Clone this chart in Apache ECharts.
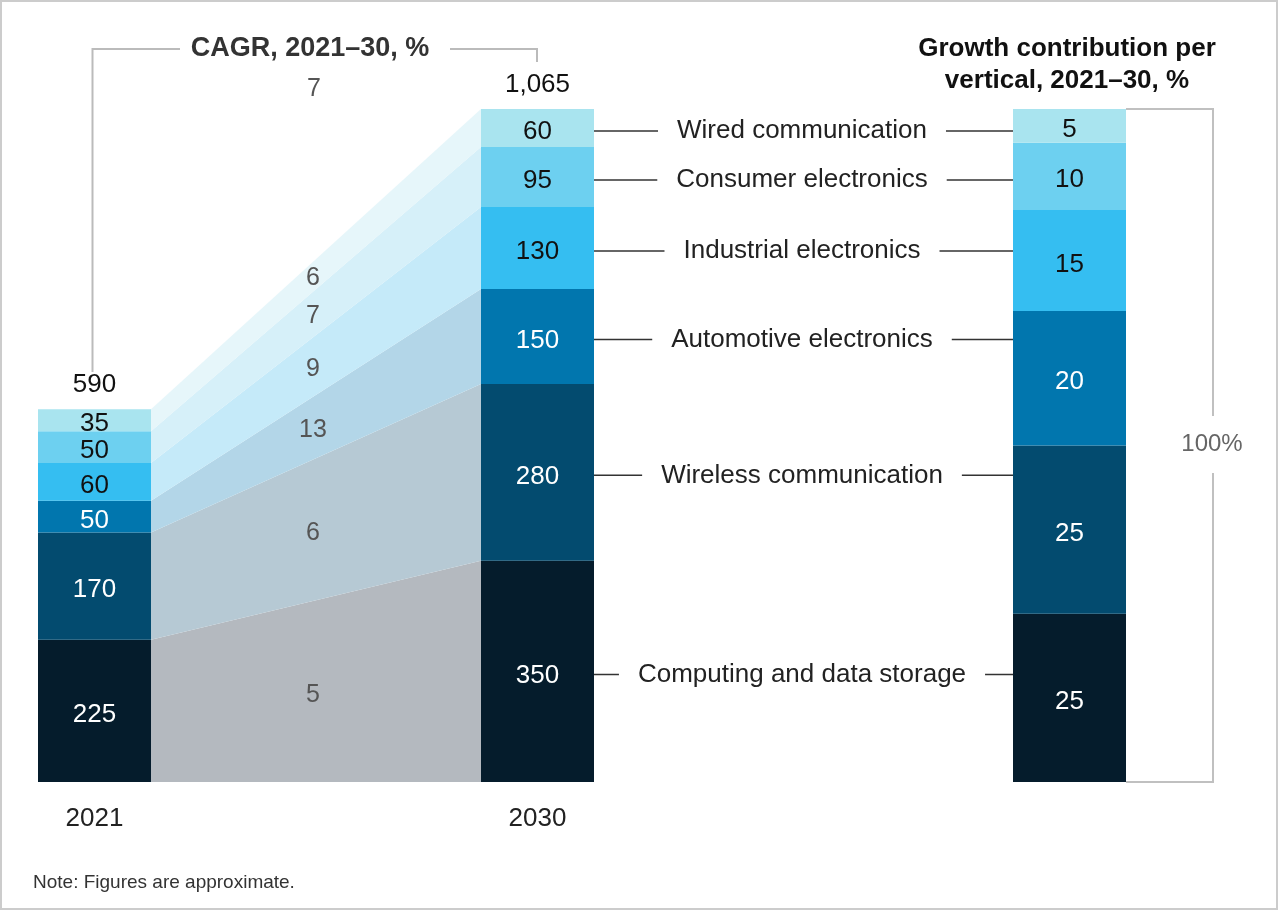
<!DOCTYPE html>
<html>
<head>
<meta charset="utf-8">
<title>Semiconductor market by vertical, 2021-30</title>
<script src="https://cdn.jsdelivr.net/npm/echarts@6.0.0/dist/echarts.min.js"></script>
<style>
  html, body { margin: 0; padding: 0; background: #fff; }
  #main { width: 1279px; height: 911px; }
</style>
</head>
<body>
<div id="main"></div>
<script>
// data, bottom of the stack first
var years = ['2021', '2030'];
var verticals = ['Computing and data storage', 'Wireless communication', 'Automotive electronics',
                 'Industrial electronics', 'Consumer electronics', 'Wired communication'];
var value2021 = [225, 170, 50, 60, 50, 35];
var value2030 = [350, 280, 150, 130, 95, 60];
var cagr = [5, 6, 13, 9, 7, 6];
var cagrTotal = [7];
var contribution = [25, 25, 20, 15, 10, 5];

// styles
var barColors = ['#051c2c', '#034b6f', '#0176ae', '#35bef1', '#6dd0f0', '#a9e4ef'];
var bandColors = ['#b4b9bf', '#b6c9d4', '#b3d6e8', '#c5eaf9', '#d6f0f9', '#e6f6fa'];
var textColors = ['#fff', '#fff', '#fff', '#111', '#111', '#111'];
var FONT = '"Liberation Sans", Arial, sans-serif';
var BAR_W = 113;
var LABEL_X = 802;
var LEADER_END = 1013;

function sum(arr) {
    return arr.reduce(function (a, b) { return a + b; }, 0);
}
function cumulative(arr) {
    var acc = 0;
    return arr.map(function (v) {
        var lo = acc;
        acc += v;
        return [lo, acc];
    });
}

var stack21 = cumulative(value2021);
var stack30 = cumulative(value2030);

var myChart = echarts.init(document.getElementById('main'));

var series = [];

// stacked bars 2021 / 2030 and the contribution bar
verticals.forEach(function (name, i) {
    var label = {
        show: true, position: 'inside', offset: [0, 4],
        color: textColors[i], fontSize: 26, fontFamily: FONT
    };
    series.push({
        name: name,
        type: 'bar',
        stack: 'years',
        xAxisIndex: 0,
        yAxisIndex: 0,
        barWidth: BAR_W,
        clip: false,
        data: [value2021[i], value2030[i]],
        itemStyle: { color: barColors[i] },
        label: label
    });
    series.push({
        name: name,
        type: 'bar',
        stack: 'share',
        xAxisIndex: 1,
        yAxisIndex: 1,
        barWidth: BAR_W,
        data: [contribution[i]],
        itemStyle: { color: barColors[i] },
        label: label
    });
});

// bands between the two bars, with CAGR in the middle
series.push({
    type: 'custom',
    xAxisIndex: 0,
    yAxisIndex: 0,
    z: 1,
    encode: { x: 0, y: 2 },
    data: verticals.map(function (n, i) {
        return [0, stack21[i][0], stack21[i][1], stack30[i][0], stack30[i][1], cagr[i]];
    }),
    renderItem: function (params, api) {
        var half = BAR_W / 2;
        var a = api.coord([0, api.value(1)]);
        var b = api.coord([0, api.value(2)]);
        var c = api.coord([1, api.value(4)]);
        var d = api.coord([1, api.value(3)]);
        var x1 = a[0] + half;
        var x2 = c[0] - half;
        return {
            type: 'group',
            children: [{
                type: 'polygon',
                shape: { points: [[x1, a[1]], [x1, b[1]], [x2, c[1]], [x2, d[1]]] },
                style: { fill: bandColors[params.dataIndex] }
            }, {
                type: 'text',
                style: {
                    text: String(api.value(5)),
                    x: (x1 + x2) / 2 - 3,
                    y: (a[1] + b[1] + c[1] + d[1]) / 4 + 4,
                    align: 'center',
                    verticalAlign: 'middle',
                    fill: '#555',
                    fontSize: 25,
                    fontFamily: FONT
                }
            }]
        };
    }
});

// leader lines and vertical names
series.push({
    type: 'custom',
    xAxisIndex: 0,
    yAxisIndex: 0,
    z: 3,
    encode: { x: 0, y: 1 },
    data: verticals.map(function (n, i) {
        return [1, (stack30[i][0] + stack30[i][1]) / 2];
    }),
    renderItem: function (params, api) {
        var p = api.coord([api.value(0), api.value(1)]);
        var y = p[1] + 3;
        return {
            type: 'group',
            children: [{
                type: 'line',
                shape: { x1: p[0] + BAR_W / 2, y1: y, x2: LEADER_END, y2: y },
                style: { stroke: '#333', lineWidth: 1.5 }
            }, {
                type: 'text',
                style: {
                    text: verticals[params.dataIndex],
                    x: LABEL_X,
                    y: y,
                    align: 'center',
                    verticalAlign: 'middle',
                    fill: '#222',
                    fontSize: 26,
                    fontFamily: FONT,
                    backgroundColor: '#fff',
                    padding: [4, 19]
                }
            }]
        };
    }
});

// totals above the bars
series.push({
    type: 'custom',
    xAxisIndex: 0,
    yAxisIndex: 0,
    z: 3,
    encode: { x: 0, y: 1 },
    data: [[0, sum(value2021)], [1, sum(value2030)]],
    renderItem: function (params, api) {
        var p = api.coord([api.value(0), api.value(1)]);
        return {
            type: 'text',
            style: {
                text: api.value(1).toLocaleString('en-US'),
                x: p[0],
                y: p[1] - 24,
                align: 'center',
                verticalAlign: 'middle',
                fill: '#111',
                fontSize: 26,
                fontFamily: FONT
            }
        };
    }
});

var option = {
    animation: false,
    backgroundColor: '#fff',
    grid: [
        { left: 94.5, width: 443, top: 109, height: 673, outerBoundsMode: 'none' },
        { left: 1013, width: 113, top: 109, height: 673, outerBoundsMode: 'none' }
    ],
    xAxis: [{
        type: 'category',
        gridIndex: 0,
        data: years,
        boundaryGap: false,
        axisLine: { show: false },
        axisTick: { show: false },
        axisLabel: { color: '#222', fontSize: 26, fontFamily: FONT, margin: 24 }
    }, {
        type: 'category',
        gridIndex: 1,
        data: ['2021–30'],
        show: false
    }],
    yAxis: [
        { type: 'value', gridIndex: 0, min: 0, max: 1065, show: false },
        { type: 'value', gridIndex: 1, min: 0, max: 100, show: false }
    ],
    graphic: [{
        type: 'rect',
        shape: { x: 1, y: 1, width: 1276, height: 908 },
        style: { fill: 'none', stroke: '#cccccc', lineWidth: 2 }
    }, {
        // CAGR bracket
        type: 'polyline',
        shape: { points: [[92.5, 372], [92.5, 49], [180, 49]] },
        style: { fill: 'none', stroke: '#bbbbbb', lineWidth: 2 }
    }, {
        type: 'polyline',
        shape: { points: [[450, 49], [537, 49], [537, 62]] },
        style: { fill: 'none', stroke: '#bbbbbb', lineWidth: 2 }
    }, {
        type: 'text',
        x: 310,
        y: 49,
        style: { text: 'CAGR, 2021–30, %', align: 'center', verticalAlign: 'middle', fill: '#333', fontSize: 27, fontWeight: 'bold', fontFamily: FONT }
    }, {
        type: 'text',
        x: 314,
        y: 89,
        style: { text: String(cagrTotal[0]), align: 'center', verticalAlign: 'middle', fill: '#555', fontSize: 25, fontFamily: FONT }
    }, {
        // growth contribution header
        type: 'text',
        x: 1067,
        y: 65,
        style: {
            text: 'Growth contribution per\nvertical, 2021–30, %',
            align: 'center', verticalAlign: 'middle', lineHeight: 32,
            fill: '#111', fontSize: 26, fontWeight: 'bold', fontFamily: FONT
        }
    }, {
        type: 'polyline',
        shape: { points: [[1126, 109], [1213, 109], [1213, 416]] },
        style: { fill: 'none', stroke: '#c0c0c0', lineWidth: 2 }
    }, {
        type: 'polyline',
        shape: { points: [[1213, 473], [1213, 782], [1126, 782]] },
        style: { fill: 'none', stroke: '#c0c0c0', lineWidth: 2 }
    }, {
        type: 'text',
        x: 1212,
        y: 444,
        style: { text: '100%', align: 'center', verticalAlign: 'middle', fill: '#666', fontSize: 24, fontFamily: FONT }
    }, {
        type: 'text',
        x: 33,
        y: 883,
        style: { text: 'Note: Figures are approximate.', align: 'left', verticalAlign: 'middle', fill: '#333', fontSize: 19, fontFamily: FONT }
    }],
    series: series
};

myChart.setOption(option);
</script>
</body>
</html>
